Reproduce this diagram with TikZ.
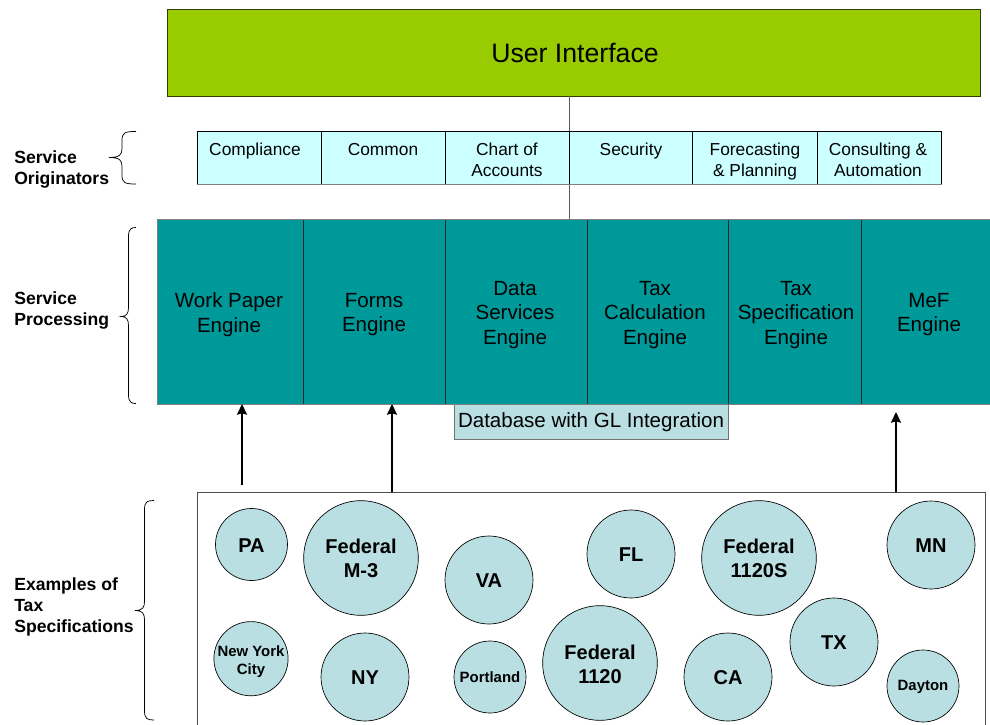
\documentclass[tikz,border=0pt]{standalone}
\usepackage{fontspec}
\setmainfont{Liberation Sans}
\usetikzlibrary{arrows.meta}
\definecolor{uigreen}{HTML}{99CC00}
\definecolor{cellcyan}{HTML}{CCFFFF}
\definecolor{engteal}{HTML}{009999}
\definecolor{pale}{HTML}{B9DFE3}
\newcommand{\bracket}[6]{% tip x, spine x, right x, top y, mid y, bottom y
  \draw[bracestyle] (#3,#4) .. controls (#2+3,#4) and (#2,#4+1) .. (#2,#4+9)
    -- (#2,#5-9) .. controls (#2,#5-3) and (#2-2,#5) .. (#1,#5)
    .. controls (#2-2,#5) and (#2,#5+3) .. (#2,#5+9)
    -- (#2,#6-9) .. controls (#2,#6-1) and (#2+3,#6) .. (#3,#6);}
\newcommand{\dn}[2][0.7pt]{\raisebox{-#1}[\height][\depth]{#2}}
\tikzset{
  x=0.75pt,y=-0.75pt,
  wh/.style 2 args={minimum width=#1*0.75pt,minimum height=#2*0.75pt},
  struts/.style={execute at begin node=\strut,execute at end node=\strut},
  bracestyle/.style={draw=black,line width=0.55pt},
  uibox/.style={draw=black!70!uigreen,line width=0.65pt,fill=uigreen,inner sep=0pt},
  cell/.style={draw=black,line width=0.5pt,fill=cellcyan,inner sep=0pt,anchor=north west},
  celltext/.style={struts,inner sep=0pt,align=center,font=\fontsize{13}{15.8}\selectfont},
  engine/.style={draw=black!85,line width=0.5pt,fill=engteal,inner sep=0pt,anchor=north west},
  enginetext/.style={struts,inner sep=0pt,align=center,font=\fontsize{15.4}{18.4}\selectfont},
  rim/.style={draw=black!50,line width=0.7pt},
  db/.style={draw=black!55,line width=0.7pt,fill=pale,inner sep=0pt},
  grouplabel/.style={struts,inner sep=0pt,anchor=west,align=left,font=\fontsize{13.2}{15.8}\selectfont\bfseries},
  spec/.style={circle,draw=black,line width=0.5pt,fill=pale,inner sep=0pt,align=center,font=\fontsize{15}{18}\selectfont\bfseries},
  specsmall/.style={spec,font=\fontsize{11.2}{13.5}\selectfont\bfseries},
  specs/.style={draw=black!70,line width=0.6pt,fill=white,inner sep=0pt,anchor=north west},
  link/.style={draw=black!65,line width=0.7pt},
  feed/.style={draw=black,line width=1.2pt,-{Stealth[inset=1pt,length=8pt,width=7.5pt]}}
}
\begin{document}
\begin{tikzpicture}
\useasboundingbox (0,0) rectangle (990,725);
% top
\node[uibox,wh={813}{87}] (ui) at (573.5,52.5) {};
\node[inner sep=0pt,font=\fontsize{20}{24}\selectfont] (uit) at (575,53) {User Interface};
% connector behind cells
\coordinate (linetop) at (569,96);
\coordinate (linebot) at (569,219);
\draw[link] (linetop) -- (linebot);
% originators
\node[cell,wh={124}{53}] (c1) at (197,131) {};
\node[cell,wh={124}{53}] (c2) at (321,131) {};
\node[cell,wh={124}{53}] (c3) at (445,131) {};
\node[cell,wh={123}{53}] (c4) at (569,131) {};
\node[cell,wh={125}{53}] (c5) at (692,131) {};
\node[cell,wh={124}{53}] (c6) at (817,131) {};
\draw[rim] (c1.south west) -- (c6.south east);
\node[celltext] (c1t) at (255,151) {Compliance};
\node[celltext] (c2t) at (383,151) {Common};
\node[celltext] (c3t) at (507,162.5) {Chart of\\Accounts};
\node[celltext] (c4t) at (631,151) {Security};
\node[celltext] (c5t) at (755,162.5) {Forecasting\\\& Planning};
\node[celltext] (c6t) at (878,162.5) {Consulting \&\\Automation};
% database
\node[db,wh={274}{35}] (db) at (591,421.5) {};
\node[inner sep=0pt,font=\fontsize{15.4}{18.4}\selectfont] (dbt) at (591,422.5) {Database with GL Integration};
% engines
\node[engine,wh={146}{185}] (e1) at (157,219) {};
\node[engine,wh={142}{185}] (e2) at (303,219) {};
\node[engine,wh={142}{185}] (e3) at (445,219) {};
\node[engine,wh={141}{185}] (e4) at (587,219) {};
\node[engine,wh={133}{185}] (e5) at (728,219) {};
\node[engine,wh={132}{185}] (e6) at (861,219) {};
\draw[rim] (e1.south west) -- (e1.north west) -- (e6.north east);
\draw[rim] (e1.south west) -- (e6.south east);
\node[enginetext] (e1t) at (229,316) {Work Paper\\Engine};
\node[enginetext] (e2t) at (374,316) {Forms\\Engine};
\node[enginetext] (e3t) at (515,316.5) {Data\\Services\\Engine};
\node[enginetext] (e4t) at (655,316.5) {Tax\\Calculation\\Engine};
\node[enginetext] (e5t) at (796,316.5) {Tax\\Specification\\Engine};
\node[enginetext] (e6t) at (929,316) {MeF\\Engine};
% specs box
\node[specs,wh={788}{236}] (box) at (197,492) {};
\node[spec,minimum size=54pt] (pa) at (251.5,544.5) {\dn{PA}};
\node[spec,minimum size=86pt] (m3) at (361,558) {Federal\\M-3};
\node[spec,minimum size=66pt] (va) at (489,580) {\dn{VA}};
\node[spec,minimum size=66pt] (fl) at (631,554) {\dn{FL}};
\node[spec,minimum size=86pt] (s1120) at (759,558) {Federal\\1120S};
\node[spec,minimum size=66pt] (mn) at (931,545) {\dn{MN}};
\node[specsmall,minimum size=54pt] (nyc) at (251,658.7) {\dn[2.2pt]{New York}\\\dn[2.2pt]{City}};
\node[spec,minimum size=66pt] (ny) at (365,677) {\dn{NY}};
\node[specsmall,minimum size=54pt] (port) at (490,677) {Portland};
\node[spec,minimum size=86pt] (f1120) at (600,663) {\dn[0.8pt]{Federal}\\\dn[0.8pt]{1120}};
\node[spec,minimum size=66pt] (ca) at (728,677) {\dn{CA}};
\node[spec,minimum size=66pt] (tx) at (834,642) {\dn{TX}};
\node[specsmall,minimum size=54pt] (day) at (923,686) {\dn{Dayton}};
% feeds
\coordinate (a1s) at (242,485);
\coordinate (a1e) at (242,404);
\coordinate (a2s) at (392,492);
\coordinate (a2e) at (392,404);
\coordinate (a3s) at (896,492);
\coordinate (a3e) at (896,412);
\draw[feed] (a1s) -- (a1e);
\draw[feed] (a2s) -- (a2e);
\draw[feed] (a3s) -- (a3e);
% labels
\node[grouplabel] (l1) at (14,170.5) {Service\\Originators};
\node[grouplabel] (l2) at (14,311.5) {Service\\Processing};
\node[grouplabel] (l3) at (14,608) {Examples of\\Tax\\Specifications};
\bracket{109}{122}{136}{131.5}{157.5}{184}
\bracket{121}{128.5}{136}{227.5}{316.5}{403.5}
\bracket{135}{144.5}{154}{500.5}{610.5}{720}
\end{tikzpicture}
\end{document}
